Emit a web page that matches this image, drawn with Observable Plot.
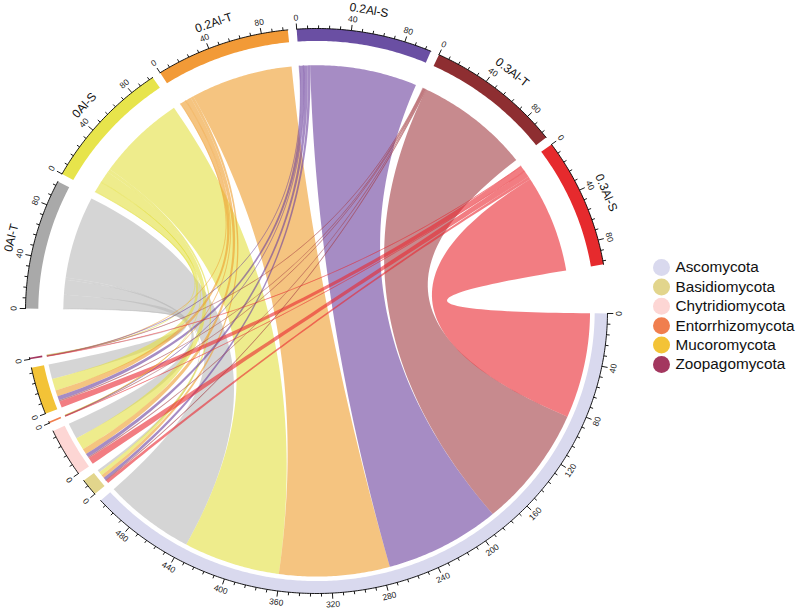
<!DOCTYPE html>
<html>
<head>
<meta charset="utf-8">
<script src="https://cdn.jsdelivr.net/npm/d3@7"></script>
<script src="https://cdn.jsdelivr.net/npm/@observablehq/plot@0.6"></script>
<style>
  html, body { margin: 0; padding: 0; background: #fff; }
  #chart svg { display: block; }
</style>
</head>
<body>
<div id="chart"></div>
<script>
// ---------- data ----------
const phyla = ["Ascomycota", "Basidiomycota", "Chytridiomycota", "Entorrhizomycota", "Mucoromycota", "Zoopagomycota"];
const samples = ["0Al-T", "0Al-S", "0.2Al-T", "0.2Al-S", "0.3Al-T", "0.3Al-S"];
// relative abundance (%) of each phylum, one value per sample (same order as samples)
const ascomycota       = [72, 76, 87, 91, 98, 85];
const basidiomycota    = [2, 3, 2.5, 2.5, 0.5, 2.5];
const chytridiomycota  = [13, 10, 4.5, 3, 1, 5.5];
const entorrhizomycota = [0, 0.2, 0.3, 0.2, 0.2, 0.3];
const mucoromycota     = [12, 9.5, 5, 3.3, 1, 5.2];
const zoopagomycota    = [0.2, 0.3, 0.2, 0.2, 0.2, 0.2];
const majorTickStep = 40;
const minorTickStep = 8;

// ---------- styles ----------
const phylumColors = ["#D9D9EE", "#E2D58C", "#FDD6D4", "#F07E4E", "#F3C337", "#A3375F"];
const sampleColors = ["#A9A9A9", "#E7E44B", "#F29A37", "#6A4FA3", "#8E2E31", "#E62A2D"];
const ribbonColors = ["#B9B9B9", "#E3DF3F", "#EE9D2B", "#6B3F9D", "#A23C43", "#E9262F"];
const ribbonOpacity = 0.6;
const gapSmall = 1.75, gapBig = 10, startAngle = 0.5;
const R_OUT = 1.0, R_IN = 0.956, R_TARGET = 0.94, R_SOURCE = 0.87;
const X_RANGE = [25, 607], Y_RANGE = [28, 593];
const W = 800, H = 611;

// ---------- layout ----------
const matrix = [ascomycota, basidiomycota, chytridiomycota, entorrhizomycota, mucoromycota, zoopagomycota];
const sectorNames = [...phyla, ...samples];
const sectorTotals = [
  ...matrix.map(row => d3.sum(row)),
  ...samples.map((s, i) => d3.sum(matrix, row => row[i]))
];
const gapAfter = sectorNames.map((_, k) => (k === phyla.length - 1 || k === sectorNames.length - 1) ? gapBig : gapSmall);
const unit = (360 - d3.sum(gapAfter)) / d3.sum(sectorTotals);
const sectorStart = [];
{
  let a = startAngle;
  sectorTotals.forEach((t, k) => { sectorStart.push(a); a += t * unit + gapAfter[k]; });
}
const rad = d => d * Math.PI / 180;
const pt = (deg, r) => [r * Math.cos(rad(deg)), r * Math.sin(rad(deg))];

function arcPts(a0, a1, r) {
  const n = Math.max(2, Math.ceil(Math.abs(a1 - a0) / 0.5) + 1);
  return d3.range(n).map(k => pt(a0 + (a1 - a0) * k / (n - 1), r));
}
function quadPts(p0, p2) {
  const n = 60;
  return d3.range(1, n).map(k => {
    const t = k / n;
    return [(1 - t) * (1 - t) * p0[0] + t * t * p2[0], (1 - t) * (1 - t) * p0[1] + t * t * p2[1]];
  });
}

// link positions
const targetPos = {}, sourcePos = {};
phyla.forEach((p, j) => {
  let off = 0;
  for (let i = samples.length - 1; i >= 0; i--) {
    const v = matrix[j][i]; if (!v) continue;
    targetPos[i + "-" + j] = [sectorStart[j] + off * unit, sectorStart[j] + (off + v) * unit];
    off += v;
  }
});
samples.forEach((s, i) => {
  const k = phyla.length + i;
  let off = 0;
  for (let j = phyla.length - 1; j >= 0; j--) {
    const v = matrix[j][i]; if (!v) continue;
    sourcePos[i + "-" + j] = [sectorStart[k] + off * unit, sectorStart[k] + (off + v) * unit];
    off += v;
  }
});

const ribbonData = [];
samples.forEach((s, i) => {
  phyla.forEach((p, j) => {
    const v = matrix[j][i]; if (!v) return;
    const key = i + "-" + j;
    const [a0, a1] = sourcePos[key], [b0, b1] = targetPos[key];
    const pts = [
      ...arcPts(a0, a1, R_SOURCE),
      ...quadPts(pt(a1, R_SOURCE), pt(b0, R_TARGET)),
      ...arcPts(b0, b1, R_TARGET),
      ...quadPts(pt(b1, R_TARGET), pt(a0, R_SOURCE))
    ];
    pts.forEach(([x, y]) => ribbonData.push({ id: key, x, y, color: ribbonColors[i], thin: v < 1 }));
  });
});

const ringData = [], axisData = [], ticks = [], tickLabels = [], nameLabels = [];
const sectorColors = [...phylumColors, ...sampleColors];
const facingRotate = deg => {
  const a = ((deg % 360) + 360) % 360;
  return a >= 180 ? a + 90 : a - 90;
};
sectorNames.forEach((name, k) => {
  const a0 = sectorStart[k], a1 = a0 + sectorTotals[k] * unit;
  [...arcPts(a0, a1, R_OUT), ...arcPts(a1, a0, R_IN)].forEach(([x, y]) => ringData.push({ id: name, x, y, color: sectorColors[k] }));
  arcPts(a0, a1, R_OUT).forEach(([x, y]) => axisData.push({ id: name, x, y }));
  for (let v = 0; v <= sectorTotals[k] + 1e-9; v += minorTickStep) {
    const a = a0 + v * unit;
    const major = v % majorTickStep === 0;
    const [x1, y1] = pt(a, R_OUT), [x2, y2] = pt(a, R_OUT + (major ? 0.02 : 0.011));
    ticks.push({ x1, y1, x2, y2 });
    if (major) {
      const [x, y] = pt(a, 1.04);
      tickLabels.push({ x, y, text: String(v), rotate: facingRotate(a) });
    }
  }
  if (k >= phyla.length) {
    const am = (a0 + a1) / 2;
    const [x, y] = pt(am, 1.08);
    nameLabels.push({ x, y, text: name, rotate: facingRotate(am) });
  }
});

// legend (pixel layout converted into the plot's data space)
const invX = px => (px - X_RANGE[0]) / (X_RANGE[1] - X_RANGE[0]) * 2 - 1;
const invY = py => (py - Y_RANGE[0]) / (Y_RANGE[1] - Y_RANGE[0]) * 2 - 1;
const legendData = phyla.map((p, j) => ({
  name: p, color: phylumColors[j],
  xd: invX(661), xt: invX(675), y: invY(267 + j * 19.4)
}));

const font = "'Liberation Sans', Arial, Helvetica, sans-serif";
const chart = Plot.plot({
  width: W, height: H,
  margin: 0,
  style: { fontFamily: font, background: "#fff", overflow: "visible" },
  x: { axis: null, domain: [-1, 1], range: X_RANGE },
  y: { axis: null, domain: [-1, 1], range: Y_RANGE },
  color: { type: "identity" },
  marks: [
    Plot.line(ringData, { x: "x", y: "y", z: "id", fill: "color", stroke: "none", curve: "linear-closed" }),
    Plot.line(ribbonData, { x: "x", y: "y", z: "id", fill: "color", fillOpacity: ribbonOpacity, stroke: "none", curve: "linear-closed" }),
    Plot.line(ribbonData.filter(d => d.thin), { x: "x", y: "y", z: "id", fill: "none", stroke: "color", strokeOpacity: 0.5, strokeWidth: 0.5, curve: "linear-closed" }),
    Plot.line(axisData, { x: "x", y: "y", z: "id", stroke: "#000", strokeWidth: 0.9 }),
    Plot.link(ticks, { x1: "x1", y1: "y1", x2: "x2", y2: "y2", stroke: "#000", strokeWidth: 0.9 }),
    Plot.text(tickLabels, { x: "x", y: "y", text: "text", rotate: "rotate", fontSize: 8.5, fill: "#222", textAnchor: "middle", lineAnchor: "middle" }),
    Plot.text(nameLabels, { x: "x", y: "y", text: "text", rotate: "rotate", fontSize: 12, fill: "#111", textAnchor: "middle", lineAnchor: "middle" }),
    Plot.dot(legendData, { x: "xd", y: "y", r: 8.5, fill: "color", stroke: "none" }),
    Plot.text(legendData, { x: "xt", y: "y", text: "name", fontSize: 15.3, fill: "#111", textAnchor: "start", lineAnchor: "middle" })
  ]
});
document.getElementById("chart").appendChild(chart);
</script>
</body>
</html>
